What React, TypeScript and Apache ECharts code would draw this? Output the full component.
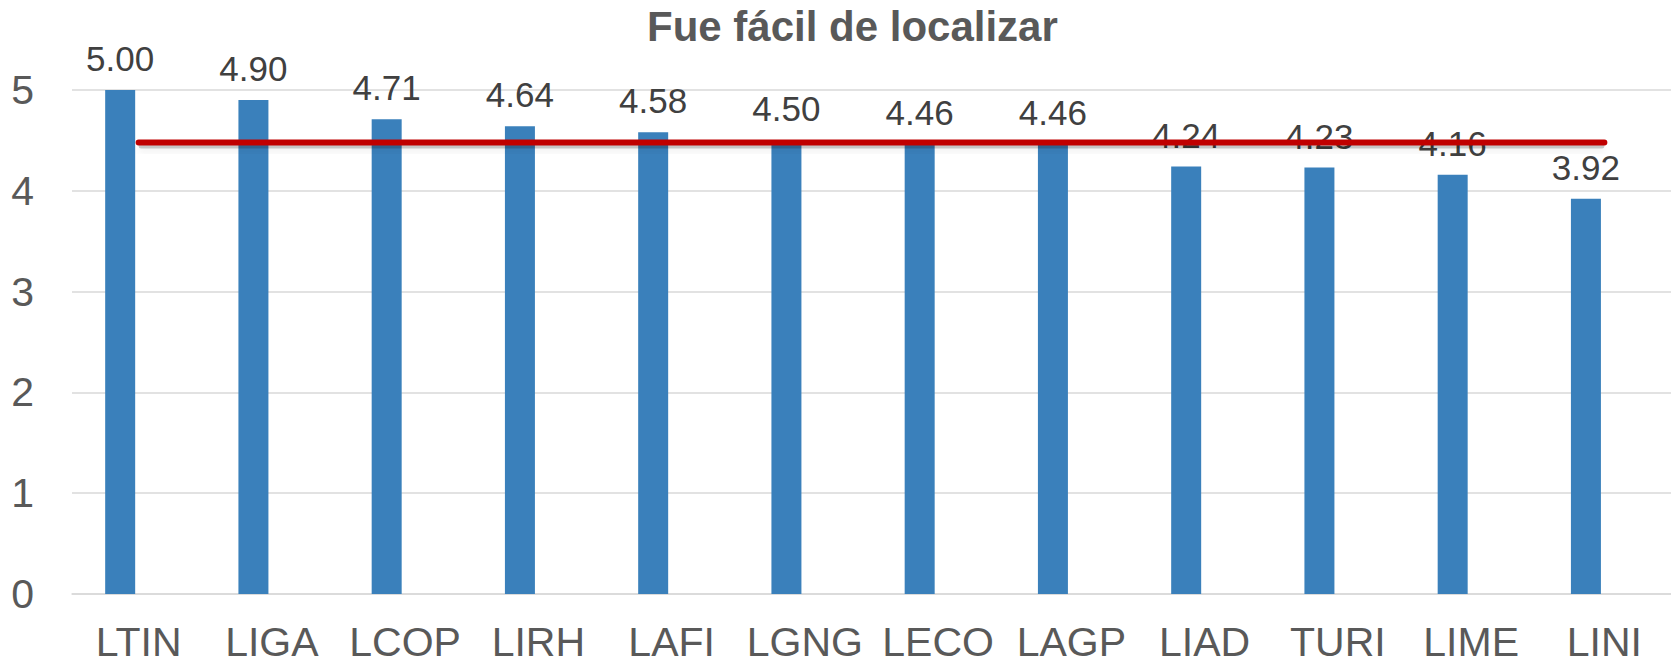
import React, { useEffect, useRef } from "react";
import * as echarts from "echarts";

const categories = ["LTIN", "LIGA", "LCOP", "LIRH", "LAFI", "LGNG", "LECO", "LAGP", "LIAD", "TURI", "LIME", "LINI"];
const scores = [5.0, 4.9, 4.71, 4.64, 4.58, 4.5, 4.46, 4.46, 4.24, 4.23, 4.16, 3.92];
const averageLine = [4.48, 4.48, 4.48, 4.48, 4.48, 4.48, 4.48, 4.48, 4.48, 4.48, 4.48, 4.48];
const emptySlot = [null, null, null, null, null, null, null, null, null, null, null, null];
const yTicks = { min: 0, max: 5, interval: 1 };
const titleText = "Fue fácil de localizar";

const FONT = "'Liberation Sans', Arial, sans-serif";

export default function App() {
  const ref = useRef<HTMLDivElement>(null);
  useEffect(() => {
    if (!ref.current) return;
    const chart = echarts.init(ref.current, undefined, { renderer: "svg" });
    const lastIdx = categories.length - 1;
    chart.setOption({
      animation: false,
      backgroundColor: "#ffffff",
      title: {
        text: titleText,
        left: 642,
        top: 0,
        textStyle: { fontFamily: FONT, fontSize: 42, fontWeight: "bold", color: "#595959" },
      },
      grid: { left: 72, right: 0, top: 90, bottom: 69, containLabel: false },
      xAxis: {
        type: "category",
        data: categories,
        boundaryGap: true,
        axisLine: { show: true, lineStyle: { color: "#D9D9D9", width: 1.5 } },
        axisTick: { show: false },
        axisLabel: { fontFamily: FONT, fontSize: 41, color: "#595959", margin: 27, interval: 0 },
      },
      yAxis: {
        type: "value",
        min: yTicks.min,
        max: yTicks.max,
        interval: yTicks.interval,
        axisLine: { show: false },
        axisTick: { show: false },
        splitLine: { lineStyle: { color: "#D9D9D9", width: 1.5 } },
        axisLabel: { fontFamily: FONT, fontSize: 41, color: "#595959", margin: 38 },
      },
      series: [
        {
          type: "bar",
          data: scores,
          barWidth: 30,
          barGap: "23%",
          itemStyle: { color: "#3A80BB" },
          label: {
            show: true,
            position: "top",
            distance: 14,
            formatter: (p: any) => Number(p.value).toFixed(2),
            fontFamily: FONT,
            fontSize: 35,
            color: "#404040",
          },
          z: 2,
        },
        {
          type: "bar",
          data: emptySlot,
          barWidth: 30,
          itemStyle: { color: "transparent" },
          z: 1,
        },
        {
          type: "custom",
          data: averageLine.map((v, i) => [i, v]),
          encode: { x: 0, y: 1 },
          z: 4,
          silent: true,
          renderItem: (params: any, api: any) => {
            if (params.dataIndex !== 0) return null;
            const v = api.value(1);
            const a = api.coord([0, v]);
            const b = api.coord([lastIdx, v]);
            return {
              type: "rect",
              shape: { x: a[0], y: a[1] + 1, width: b[0] - a[0], height: 5, r: 2.5 },
              style: {
                fill: "rgba(0,0,0,0.2)",
                shadowColor: "rgba(0,0,0,0.35)",
                shadowBlur: 7,
                shadowOffsetY: 3,
              },
            };
          },
        },
        {
          type: "line",
          data: averageLine,
          symbol: "none",
          z: 5,
          lineStyle: {
            color: "#C00000",
            width: 6,
            cap: "round",
          },
        },
      ],
    });
    return () => chart.dispose();
  }, []);
  return <div ref={ref} style={{ width: 1671, height: 663, position: "absolute", left: 0, top: 0 }} />;
}
